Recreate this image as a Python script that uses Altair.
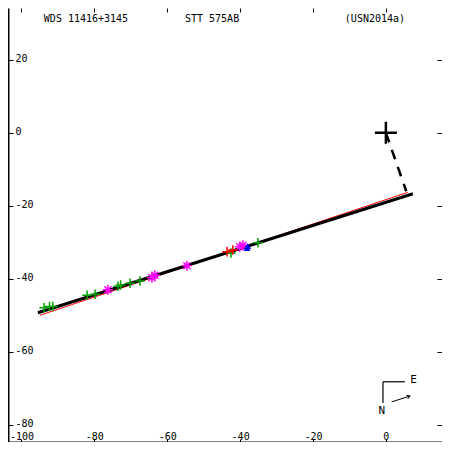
import altair as alt
import pandas as pd

# ---- data ----
X_DOMAIN = [-103.7, 15.4]
Y_DOMAIN = [-84.7, 34.2]
x_ticks = [-100, -80, -60, -40, -20, 0]
y_ticks = [20, 0, -20, -40, -60, -80]

orbit_x = [-95.5, 7.4]
orbit_y = [-49.3, -16.7]
fit_x = [-95.0, 6.0]
fit_y = [-50.0, -16.3]
dash_x = [0.0, 5.6]
dash_y = [0.0, -16.0]

green_x = [-93.8, -92.3, -91.4, -82.0, -79.8, -73.5, -72.8, -70.2, -67.5, -42.5, -35.1]
green_y = [-47.9, -47.6, -47.6, -44.5, -44.2, -42.0, -41.7, -41.2, -40.6, -32.9, -30.1]
magenta_x = [-76.3, -64.2, -63.4, -54.6, -40.1, -39.2]
magenta_y = [-43.0, -39.7, -39.0, -36.4, -31.2, -30.8]
red_x = [-43.6, -42.0]
red_y = [-32.6, -32.1]
blue_x = [-38.1, -37.9]
blue_y = [-31.6, -31.0]

titles = ["WDS 11416+3145", "STT 575AB", "(USN2014a)"]
title_x = [-82.3, -47.7, -3.0]
title_y = [31.3, 31.3, 31.3]

compass_h_x = [-0.8, 5.2]
compass_h_y = [-68.2, -68.2]
compass_v_x = [-0.8, -0.8]
compass_v_y = [-68.2, -74.0]
arrow_x = [1.6, 6.6]
arrow_y = [-73.7, -72.1]
compass_labels = ["E", "N"]
compass_lx = [7.6, -1.1]
compass_ly = [-67.7, -76.3]

# ---- chart ----
W = H = 434
FONT = "DejaVu Sans Mono"
xs = alt.Scale(domain=X_DOMAIN, nice=False, zero=False)
ys = alt.Scale(domain=Y_DOMAIN, nice=False, zero=False)

common_axis = dict(tickWidth=1, tickColor="black", grid=False, title=None,
                   labelFont=FONT, labelFontSize=10, labelColor="black",
                   labelExpr="'' + datum.value", labelFlush=False, labelOverlap=False)

axis_bottom = alt.Axis(orient="top", offset=-H, values=x_ticks, tickSize=3, labelPadding=-2,
                       domain=True, domainWidth=2, domainColor="black", **common_axis)
axis_left = alt.Axis(orient="right", offset=-W, values=y_ticks, tickSize=5, labelPadding=2,
                     labelBaseline="middle", labelOffset=-1, domain=True, domainWidth=2,
                     domainColor="black", **common_axis)
axis_top = alt.Axis(orient="bottom", offset=-H, values=x_ticks, labels=False, domain=False,
                    ticks=True, tickSize=4, tickColor="black", grid=False, title=None)
axis_right = alt.Axis(orient="left", offset=-W, values=y_ticks, labels=False, domain=False,
                      ticks=True, tickSize=5, tickColor="black", grid=False, title=None)

orbit_df = pd.DataFrame({"x": orbit_x, "y": orbit_y})
fit_df = pd.DataFrame({"x": fit_x, "y": fit_y})
dash_df = pd.DataFrame({"x": dash_x, "y": dash_y})

fit = alt.Chart(fit_df).mark_line(color="#ff0000", strokeWidth=1).encode(
    x=alt.X("x:Q", scale=xs, axis=axis_top),
    y=alt.Y("y:Q", scale=ys, axis=axis_right),
)
orbit = alt.Chart(orbit_df).mark_line(color="black", strokeWidth=3).encode(
    x=alt.X("x:Q", scale=xs, axis=axis_bottom),
    y=alt.Y("y:Q", scale=ys, axis=axis_left),
)
dash = alt.Chart(dash_df).mark_line(color="black", strokeWidth=2.5, strokeDash=[10, 8]).encode(
    x=alt.X("x:Q", scale=xs, axis=None),
    y=alt.Y("y:Q", scale=ys, axis=None),
)

PLUS = "M-1,0L1,0M0,-1L0,1"
STAR = "M-1,0L1,0M0,-1L0,1M-0.7,-0.7L0.7,0.7M-0.7,0.7L0.7,-0.7"


def pts(xv, yv, shape, color, size, filled=False, sw=1.5):
    df = pd.DataFrame({"x": xv, "y": yv})
    if filled:
        m = alt.Chart(df).mark_point(shape=shape, size=size, filled=True, color=color, opacity=1)
    else:
        m = alt.Chart(df).mark_point(shape=shape, size=size, filled=False, stroke=color,
                                     strokeWidth=sw, opacity=1)
    return m.encode(x=alt.X("x:Q", scale=xs, axis=None), y=alt.Y("y:Q", scale=ys, axis=None))


green = pts(green_x, green_y, PLUS, "#00a000", 90)
magenta = pts(magenta_x, magenta_y, STAR, "#ff00ff", 100)
red = pts(red_x, red_y, PLUS, "#ff0000", 90)
blue = pts(blue_x, blue_y, "triangle-up", "#0000ff", 45, filled=True)
origin = pts([0.0], [0.0], PLUS, "black", 484, sw=2.5)

title_df = pd.DataFrame({"t": titles, "x": title_x, "y": title_y})
title_text = alt.Chart(title_df).mark_text(font=FONT, fontSize=10, color="black",
                                           align="center", baseline="middle").encode(
    x=alt.X("x:Q", scale=xs, axis=None), y=alt.Y("y:Q", scale=ys, axis=None), text="t:N")


def seg(xv, yv, sw=1.2):
    return alt.Chart(pd.DataFrame({"x": xv, "y": yv})).mark_line(color="black", strokeWidth=sw).encode(
        x=alt.X("x:Q", scale=xs, axis=None), y=alt.Y("y:Q", scale=ys, axis=None))


comp_h = seg(compass_h_x, compass_h_y)
comp_v = seg(compass_v_x, compass_v_y)
arrow = seg(arrow_x, arrow_y, sw=1)
arrow_head = alt.Chart(pd.DataFrame({"x": [arrow_x[1]], "y": [arrow_y[1]]})).mark_point(
    shape="M-1,-0.6L0,0L-1,0.6", size=36, filled=False, stroke="black", strokeWidth=1,
    angle=341.6, opacity=1).encode(
    x=alt.X("x:Q", scale=xs, axis=None), y=alt.Y("y:Q", scale=ys, axis=None))
comp_df = pd.DataFrame({"t": compass_labels, "x": compass_lx, "y": compass_ly})
comp_text = alt.Chart(comp_df).mark_text(font=FONT, fontSize=11, color="black",
                                         align="center", baseline="middle").encode(
    x=alt.X("x:Q", scale=xs, axis=None), y=alt.Y("y:Q", scale=ys, axis=None), text="t:N")

chart = alt.layer(
    fit, orbit, dash, green, magenta, red, blue, origin, title_text,
    comp_h, comp_v, arrow, arrow_head, comp_text,
).resolve_axis(x="independent", y="independent").properties(
    width=W, height=H, padding=0, autosize=alt.AutoSizeParams(type="none"),
    background="white",
).configure_view(stroke=None)

chart.save("out.html", embed_options={"renderer": "svg", "actions": False})
